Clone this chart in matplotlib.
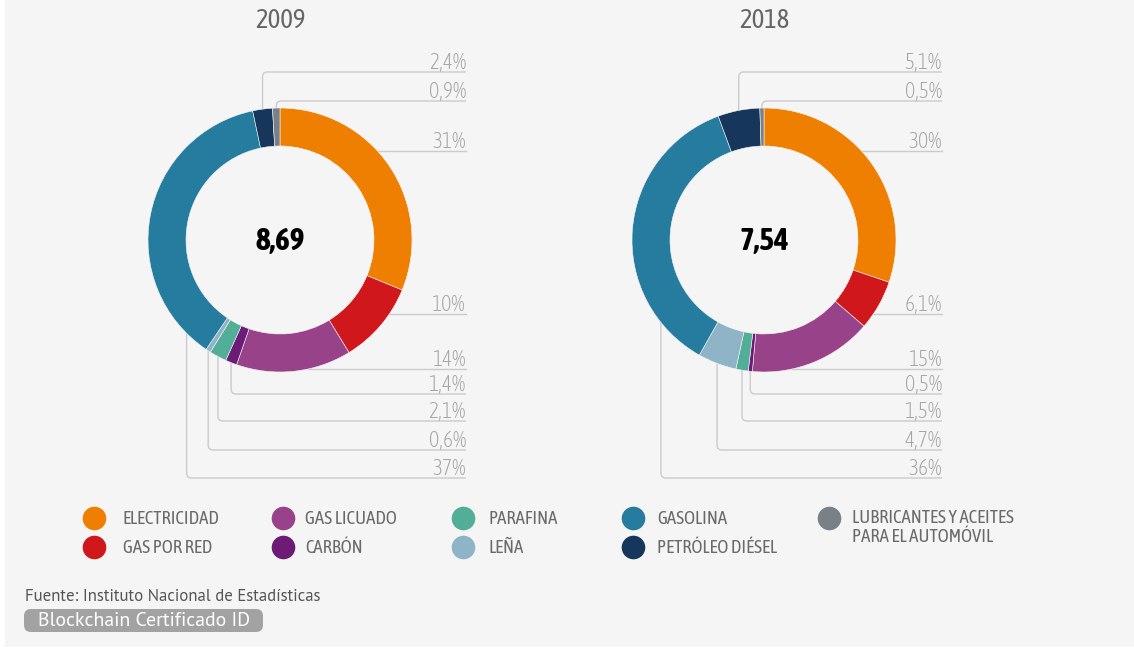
import numpy as np
import matplotlib
matplotlib.use("Agg")
import matplotlib.pyplot as plt
from matplotlib.path import Path
from matplotlib.patches import PathPatch, Rectangle, FancyBboxPatch

# Data
CATEGORIES = [
    "ELECTRICIDAD", "GAS POR RED", "GAS LICUADO", "CARBÓN", "PARAFINA",
    "LEÑA", "GASOLINA", "PETRÓLEO DIÉSEL", "LUBRICANTES Y ACEITES\nPARA EL AUTOMÓVIL",
]
YEARS = ["2009", "2018"]
SHARE_2009 = [31, 10, 14, 1.4, 2.1, 0.6, 37, 2.4, 0.9]
SHARE_2018 = [30, 6.1, 15, 0.5, 1.5, 4.7, 36, 5.1, 0.5]
TOTALS = [8.69, 7.54]
SOURCE = "Fuente: Instituto Nacional de Estadísticas"
BADGE = "Blockchain Certificado ID"

COLORS = ["#ef7f00", "#d0181c", "#984389", "#6c1c77", "#52ae97",
          "#8fb4c7", "#257c9e", "#17365c", "#7a8087"]

# Layout (pixels, y measured from top)
W, H = 1134, 652
CENTERS = [(280, 240), (764, 240)]
LABEL_RIGHT = [466, 942]
R_OUT, RING = 132, 38
# y of the leader line under each label, in category order
LINE_Y = [151, 314, 369, 394, 421, 450, 478, 72, 101]
LINE_KIND = ["h", "h", "h", "v", "v", "v", "v", "v", "v"]
GAS_OFFSET = [11, 22]  # degrees into the gasolina wedge for its leader
LEG_DOT_X = [94, 283, 463, 633, 829]
LEG_TXT_X = [123, 305, 488, 657, 852]
LEG_ROW_Y = [518, 547]

COND = ["Asap Condensed", "DejaVu Sans"]
PLAIN = ["PT Sans", "DejaVu Sans"]
plt.rcParams["font.family"] = COND

LINE_COL = "#cbcbcb"


def fmt_pct(v):
    if float(v).is_integer():
        return f"{int(v)}%"
    return f"{v:.1f}".replace(".", ",") + "%"


def leader(ax, x0, y0, y1, x1, r=5):
    # vertical from (x0, y0) to y1, rounded corner, then right to x1
    s = -1 if y1 < y0 else 1
    verts = [(x0, y0), (x0, y1 - s * r), (x0, y1), (x0 + r, y1), (x1, y1)]
    codes = [Path.MOVETO, Path.LINETO, Path.CURVE3, Path.CURVE3, Path.LINETO]
    ax.add_patch(PathPatch(Path(verts, codes), facecolor="none",
                           edgecolor=LINE_COL, lw=1.0, zorder=1))


fig = plt.figure(figsize=(W / 100, H / 100), dpi=100)
fig.patch.set_facecolor("white")
ax = fig.add_axes([0, 0, 1, 1])

for k, shares in enumerate([SHARE_2009, SHARE_2018]):
    cx, cy = CENTERS[k]
    wedges, _ = ax.pie(
        shares, colors=COLORS, startangle=-90, counterclock=True,
        center=(cx, cy), radius=R_OUT, labeldistance=None,
        wedgeprops=dict(width=RING, edgecolor="#f5f5f5", linewidth=0.4),
        frame=True,
    )
    for w in wedges:
        w.set_zorder(2)

    for i, (w, v) in enumerate(zip(wedges, shares)):
        ly = LINE_Y[i]
        xr = LABEL_RIGHT[k]
        if LINE_KIND[i] == "h":
            xs = cx + np.sqrt(max(R_OUT ** 2 - (ly - cy) ** 2, 0))
            ax.plot([xs, xr], [ly, ly], color=LINE_COL, lw=1.0, zorder=1)
        else:
            if i == 6:
                th = w.theta1 + GAS_OFFSET[k]
            else:
                th = 0.5 * (w.theta1 + w.theta2)
            ax_ = cx + R_OUT * np.cos(np.radians(th))
            ay_ = cy + R_OUT * np.sin(np.radians(th))
            leader(ax, ax_, ay_, ly, xr)
        ax.text(xr, ly - 3, fmt_pct(v), ha="right", va="baseline",
                fontsize=15.5, fontweight="light", color="#a3a3a3", zorder=3)

    ax.text(cx, cy + 1, f"{TOTALS[k]:.2f}".replace(".", ","), ha="center",
            va="center", fontsize=22.5, fontweight="bold", color="black", zorder=3)
    ax.text(cx, 20, YEARS[k], ha="center", va="center", fontsize=19.3,
            color="#666666", zorder=3)

# background panel
ax.add_patch(Rectangle((5, 0), W - 5, 647, facecolor="#f5f5f5",
                       edgecolor="none", zorder=0))

# legend
for i, (name, col) in enumerate(zip(CATEGORIES, COLORS)):
    c, r = divmod(i, 2)
    y = LEG_ROW_Y[r]
    ax.plot(LEG_DOT_X[c], y, "o", ms=17, color=col, mec="none", zorder=3)
    two = "\n" in name
    ax.text(LEG_TXT_X[c], y - 9 if two else y + 1, name,
            ha="left", va="top" if two else "center",
            fontsize=13.5, color="#6a6a6a", linespacing=1.1, zorder=3)

# source + badge
ax.text(25, 597, SOURCE, ha="left", va="center", fontsize=12.1, color="#555555",
        family=PLAIN)
ax.add_patch(FancyBboxPatch((24, 609), 239, 23,
                            boxstyle="round,pad=0,rounding_size=7",
                            facecolor="#a2a2a2", edgecolor="none", zorder=2))
ax.text(38, 620.5, BADGE, ha="left", va="center", fontsize=14.2,
        color="white", family=PLAIN, zorder=3)

ax.set_xlim(0, W)
ax.set_ylim(H, 0)
ax.set_aspect("equal")
ax.axis("off")

fig.savefig("out.png", dpi=100, facecolor=fig.get_facecolor())
